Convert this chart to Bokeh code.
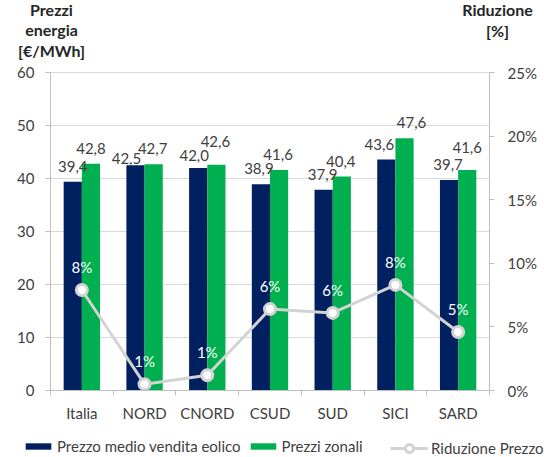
from bokeh.plotting import figure
from bokeh.models import (Range1d, LinearAxis, FixedTicker, PrintfTickFormatter,
                          ColumnDataSource, LabelSet, Label, Legend, LegendItem)
from bokeh.transform import dodge
from bokeh.core.properties import value
from bokeh.embed import file_html
from bokeh.resources import INLINE

categories = ["Italia", "NORD", "CNORD", "CSUD", "SUD", "SICI", "SARD"]
prezzo_eolico = [39.4, 42.5, 42.0, 38.9, 37.9, 43.6, 39.7]
prezzi_zonali = [42.8, 42.7, 42.6, 41.6, 40.4, 47.6, 41.6]
riduzione = [7.9, 0.5, 1.2, 6.4, 6.1, 8.3, 4.6]
left_ticks = [0, 10, 20, 30, 40, 50, 60]
right_ticks = [0, 5, 10, 15, 20, 25]

FONT = "Lato"
NAVY = "#002060"
GREEN = "#00B050"
GRAY_LINE = "#D3D3D3"
AXIS_GRAY = "#BFBFBF"
TXT = "#404040"

# layout (pixels): canvas size and where the plot area sits inside it
W, H = 544, 457
PL, PR, PT, PB = 50, 489, 72, 390
LABEL_GAP = 10
# hand nudges (px) of the value labels, as placed in the original chart
nudge_e_x = [0, -9, -4, -2, -1, -7, -1]
nudge_e_y = [0, -9, -3, 0, 0, -1, 0]
nudge_z_x = [0, -1, -1, -1, -1, 7, 0]
nudge_z_y = [0, 0, 8, 0, -1, 0, 7]

n = len(categories)
xpx = n / (PR - PL)
ypx = left_ticks[-1] / (PB - PT)
rpx = right_ticks[-1] / (PB - PT)

xc = [i + 0.5 for i in range(n)]
src = ColumnDataSource(dict(
    x=xc,
    eolico=prezzo_eolico,
    zonali=prezzi_zonali,
    rid=riduzione,
    lab_e=[f"{v:.1f}".replace(".", ",") for v in prezzo_eolico],
    lab_z=[f"{v:.1f}".replace(".", ",") for v in prezzi_zonali],
    lab_r=[f"{int(v + 0.5)}%" for v in riduzione],
    ex=nudge_e_x, ey=[LABEL_GAP + d for d in nudge_e_y],
    zx=nudge_z_x, zy=[LABEL_GAP + d for d in nudge_z_y],
))

p = figure(width=W, height=H,
           x_range=Range1d(-PL * xpx, n + (W - PR) * xpx),
           y_range=Range1d(-(H - PB) * ypx, left_ticks[-1] + PT * ypx),
           output_backend="svg", toolbar_location=None,
           min_border_left=0, min_border_right=0, min_border_top=0, min_border_bottom=0)
p.title.visible = False
p.outline_line_color = None
p.background_fill_color = "white"
p.border_fill_color = "white"
p.extra_y_ranges = {"pct": Range1d(-(H - PB) * rpx, right_ticks[-1] + PT * rpx)}
p.xgrid.visible = False
p.ygrid.visible = False

# horizontal gridlines at the left-axis ticks
p.segment(x0=[0] * len(left_ticks), x1=[n] * len(left_ticks), y0=left_ticks, y1=left_ticks,
          line_color="#D9D9D9", line_width=1)

# x axis
xa = p.xaxis[0]
xa.fixed_location = 0
xa.bounds = (0, n)
xa.ticker = FixedTicker(ticks=xc, minor_ticks=list(range(n + 1)))
xa.major_label_overrides = {c: name for c, name in zip(xc, categories)}
xa.major_tick_line_color = None
xa.minor_tick_out = 5
xa.minor_tick_in = 0
xa.minor_tick_line_color = AXIS_GRAY
xa.axis_line_color = AXIS_GRAY
xa.major_label_standoff = 7
xa.major_label_text_font = FONT
xa.major_label_text_font_size = "15px"
xa.major_label_text_color = TXT

# left axis
ya = p.yaxis[0]
ya.fixed_location = 0
ya.bounds = (left_ticks[0], left_ticks[-1])
ya.ticker = FixedTicker(ticks=left_ticks)
ya.major_tick_out = 5
ya.major_tick_in = 0
ya.minor_tick_line_color = None
ya.major_tick_line_color = AXIS_GRAY
ya.axis_line_color = AXIS_GRAY
ya.major_label_standoff = 11
ya.major_label_text_font = FONT
ya.major_label_text_font_size = "15px"
ya.major_label_text_color = TXT

# right axis
ra = LinearAxis(y_range_name="pct", ticker=FixedTicker(ticks=right_ticks),
                formatter=PrintfTickFormatter(format="%d%%"))
ra.fixed_location = n
ra.bounds = (right_ticks[0], right_ticks[-1])
ra.major_tick_out = 5
ra.major_tick_in = 0
ra.minor_tick_line_color = None
ra.major_tick_line_color = AXIS_GRAY
ra.axis_line_color = AXIS_GRAY
ra.major_label_standoff = 13
ra.major_label_text_font = FONT
ra.major_label_text_font_size = "15px"
ra.major_label_text_color = TXT
p.add_layout(ra, "right")

bw = 0.29
r_e = p.vbar(x=dodge("x", -bw / 2, range=p.x_range), top="eolico", width=bw,
             source=src, fill_color=NAVY, line_color=None)
r_z = p.vbar(x=dodge("x", bw / 2, range=p.x_range), top="zonali", width=bw,
             source=src, fill_color=GREEN, line_color=None)
r_l = p.line(x="x", y="rid", source=src, y_range_name="pct",
             line_color=GRAY_LINE, line_width=3)
r_s = p.scatter(x="x", y="rid", source=src, y_range_name="pct", size=11,
                fill_color="white", line_color=GRAY_LINE, line_width=3)

for xf, yf, tf, ox, oy in [(dodge("x", -bw / 2, range=p.x_range), "eolico", "lab_e", "ex", "ey"),
                           (dodge("x", bw / 2, range=p.x_range), "zonali", "lab_z", "zx", "zy")]:
    p.add_layout(LabelSet(x=xf, y=yf, text=tf, source=src, text_align="center",
                          text_baseline="bottom", x_offset=ox, y_offset=oy,
                          text_font=value(FONT), text_font_size=value("15px"),
                          text_color=TXT))
p.add_layout(LabelSet(x="x", y="rid", text="lab_r", source=src, y_range_name="pct",
                      text_align="center", text_baseline="bottom", y_offset=14,
                      text_font=value(FONT), text_font_size=value("15px"),
                      text_color="white"))

# axis titles
for txt, off in [("Prezzi", 63), ("energia", 43), ("[€/MWh]", 22)]:
    p.add_layout(Label(x=0, y=left_ticks[-1], text=txt, x_offset=1, y_offset=off,
                       text_align="center", text_baseline="middle",
                       text_font=FONT, text_font_size="16px", text_font_style="bold",
                       text_color="#262626"))
for txt, off in [("Riduzione", 63), ("[%]", 42)]:
    p.add_layout(Label(x=n, y=left_ticks[-1], text=txt, x_offset=8, y_offset=off,
                       text_align="center", text_baseline="middle",
                       text_font=FONT, text_font_size="16px", text_font_style="bold",
                       text_color="#262626"))

common = dict(orientation="horizontal", padding=0, margin=0, border_line_color=None,
              background_fill_alpha=0, label_text_font=FONT, label_text_font_size="15px",
              label_text_color=TXT, label_standoff=3)
leg1 = Legend(items=[LegendItem(label="Prezzo medio vendita eolico", renderers=[r_e]),
                     LegendItem(label="Prezzi zonali", renderers=[r_z])],
              location=(22, 2), glyph_width=32, glyph_height=8, label_height=14,
              spacing=6, **common)
leg2 = Legend(items=[LegendItem(label="Riduzione Prezzo", renderers=[r_l, r_s])],
              location=(390, -1), glyph_width=38, glyph_height=20, label_height=14,
              **common)
p.add_layout(leg1)
p.add_layout(leg2)

open("out.html", "w").write(file_html(p, INLINE))
